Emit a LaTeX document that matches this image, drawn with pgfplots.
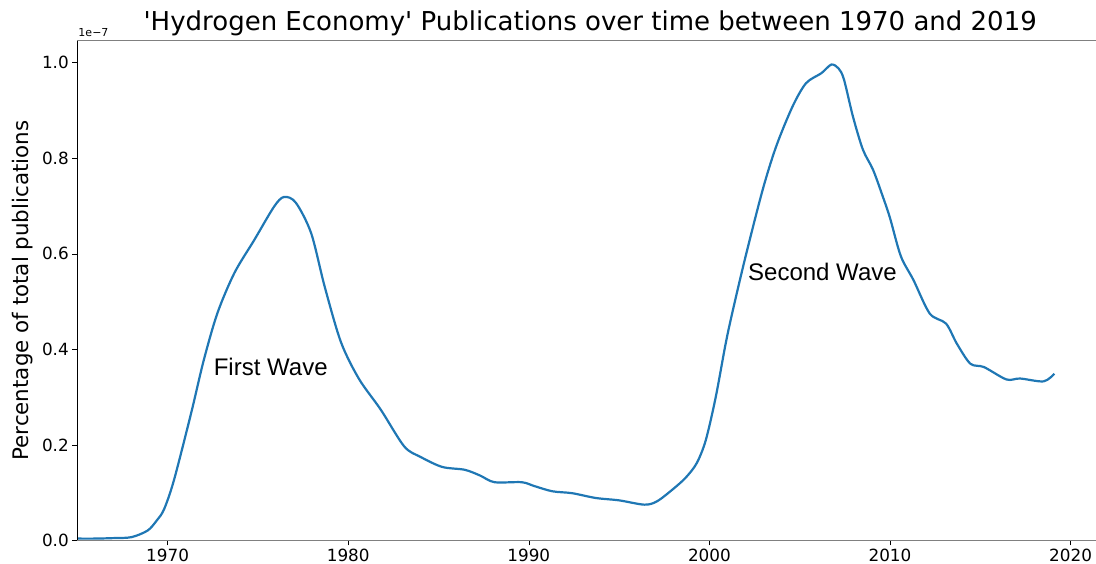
\documentclass[border=0pt]{standalone}
\usepackage{fontspec}
\setmainfont{DejaVu Sans}
\newfontfamily\arialfont{Liberation Sans}
\usepackage{pgfplots}
\pgfplotsset{compat=1.18}
\definecolor{mplblue}{HTML}{1F77B4}
\begin{document}
\begin{tikzpicture}
\begin{axis}[
  scale only axis, width=1025.8pt, height=499.8pt,
  xmin=1965, xmax=2021.8, ymin=0, ymax=1.046,
  axis line style={draw=none},
  clip mode=individual,
  xtick={1970,1980,1990,2000,2010,2020},
  ytick={0,0.2,0.4,0.6,0.8,1},
  tick align=outside, major tick length=5pt,
  tick style={black, line width=0.6pt},
  xtick pos=bottom, ytick pos=left,
  /pgf/number format/assume math mode=true,
  x tick label style={font=\fontsize{16.8}{19}\selectfont, /pgf/number format/1000 sep={}},
  y tick label style={font=\fontsize{16.8}{19}\selectfont, /pgf/number format/fixed, /pgf/number format/fixed zerofill, /pgf/number format/precision=1},
]
\addplot[mplblue, line width=2.2pt, smooth] coordinates {
(1965,0.004) (1966,0.004) (1967,0.005) (1968,0.007) (1968.9,0.021) (1969.4,0.042) (1969.8,0.065)
(1970.35,0.126) (1971.3,0.266) (1972.0,0.377) (1972.76,0.476) (1973.7,0.560) (1974.8,0.629)
(1975.9,0.699) (1976.45,0.719) (1977.1,0.707) (1977.95,0.643) (1978.7,0.531) (1979.6,0.415)
(1980.6,0.338) (1981.8,0.274) (1983.1,0.197) (1984.0,0.175) (1985.2,0.154) (1986.45,0.148)
(1987.3,0.136) (1988.1,0.122) (1989.6,0.122) (1990.3,0.114) (1991.3,0.103) (1992.4,0.099)
(1993.7,0.089) (1995.0,0.084) (1996.4,0.075) (1997.1,0.082) (1998.0,0.108) (1998.7,0.132)
(1999.3,0.162) (1999.8,0.210) (2000.35,0.300) (2000.9,0.412) (2001.3,0.482) (2002.0,0.594) (2002.95,0.734)
(2003.7,0.825) (2004.6,0.908) (2005.35,0.957) (2006.2,0.978) (2006.75,0.996) (2007.15,0.988)
(2007.45,0.965) (2007.95,0.887) (2008.5,0.818) (2009.06,0.776) (2009.6,0.720) (2010.0,0.675)
(2010.6,0.595) (2011.3,0.545) (2012.2,0.475) (2013.1,0.454) (2013.7,0.412) (2014.45,0.370)
(2015.2,0.363) (2016.45,0.337) (2017.2,0.339) (2018.5,0.333) (2019.1,0.349)
};
\draw[black, line width=0.8pt] (rel axis cs:0,0) -- (rel axis cs:0,1);
\draw[gray, line width=0.9pt] (rel axis cs:0,1) -- (rel axis cs:1,1);
\draw[gray, line width=1.8pt] (rel axis cs:0,0) -- (rel axis cs:1,0);
\node[font=\arialfont\fontsize{24}{28}\selectfont] at (axis cs:1975.71,0.3637) {First Wave};
\node[font=\arialfont\fontsize{24}{28}\selectfont] at (axis cs:2006.26,0.5626) {Second Wave};
\end{axis}
\node[anchor=base, font=\fontsize{26}{30}\selectfont] at ([yshift=9.7pt]current axis.north) {\textquotesingle Hydrogen Economy\textquotesingle{} Publications over time between 1970 and 2019};
\node[anchor=base west, font=\fontsize{11}{13}\selectfont, inner sep=0pt] at ([xshift=1pt,yshift=4.5pt]current axis.north west) {1e−7};
\node[rotate=90, font=\fontsize{21.4}{25}\selectfont] at ([xshift=-54.3pt]current axis.west) {Percentage of total publications};
\pgfresetboundingbox
\useasboundingbox ([shift={(-77.3pt,-23.5pt)}]current axis.south west) rectangle ([shift={(1018.7pt,40.7pt)}]current axis.north west);
\end{tikzpicture}
\end{document}
